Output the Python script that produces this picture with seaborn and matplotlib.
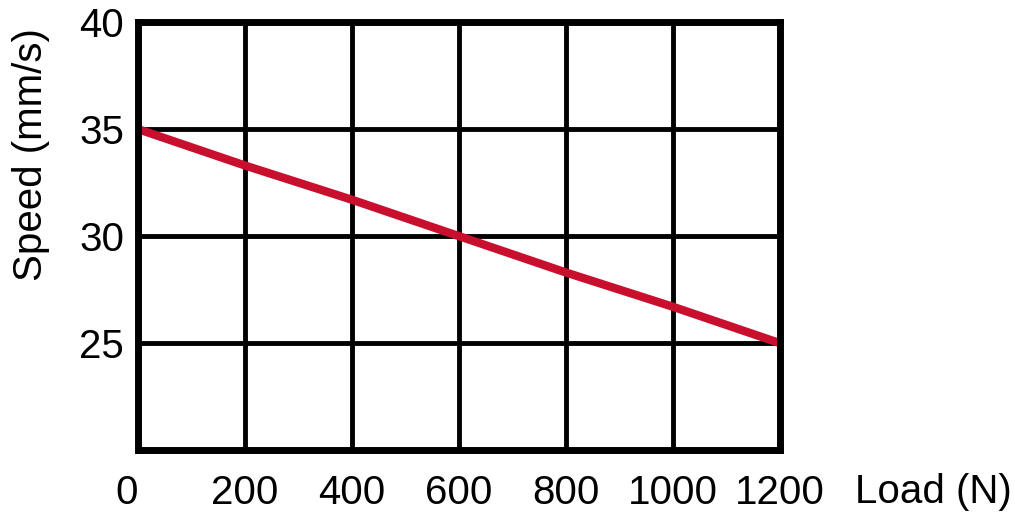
import numpy as np
import pandas as pd
import matplotlib
matplotlib.use('Agg')
import matplotlib.pyplot as plt
import seaborn as sns

sns.set_style('white')
plt.rcParams['font.family'] = ['Liberation Sans', 'DejaVu Sans']

# values
load_n = [0, 200, 400, 600, 800, 1000, 1200]
speed_mm_s = [35.0, 33.3, 31.7, 30.0, 28.3, 26.7, 25.0]
x_ticks = [0, 200, 400, 600, 800, 1000, 1200]
y_ticks = [20, 25, 30, 35, 40]
y_tick_labels = ['', '25', '30', '35', '40']

df = pd.DataFrame({'load': load_n, 'speed': speed_mm_s})

fig = plt.figure(figsize=(10.15, 5.16), dpi=100)
ax = fig.add_axes([0.136, 0.128, 0.632, 0.829])

sns.lineplot(data=df, x='load', y='speed', ax=ax, color='#C8102E', linewidth=6, zorder=3)

ax.set_xlim(0, 1200)
ax.set_ylim(20, 40)
ax.set_xticks(x_ticks)
ax.set_yticks(y_ticks)
ax.set_yticklabels(y_tick_labels)
ax.grid(True, color='black', linewidth=3.5)
ax.set_axisbelow(True)
for s in ax.spines.values():
    s.set_color('black')
    s.set_linewidth(5)
    s.set_zorder(4)
ax.tick_params(length=0, labelsize=29, colors='black')
ax.tick_params(axis='x', pad=17)
ax.tick_params(axis='y', pad=10)
ax.get_xticklabels()[0].set_ha('right')
ax.set_xlabel('')
ax.set_ylabel('Speed (mm/s)', fontsize=29, color='black')
ax.yaxis.set_label_coords(-0.137, 0.69)
fig.text(0.842, 0.026, 'Load (N)', fontsize=29, ha='left', va='baseline', color='black')

plt.savefig('out.png', dpi=100)
plt.close()
